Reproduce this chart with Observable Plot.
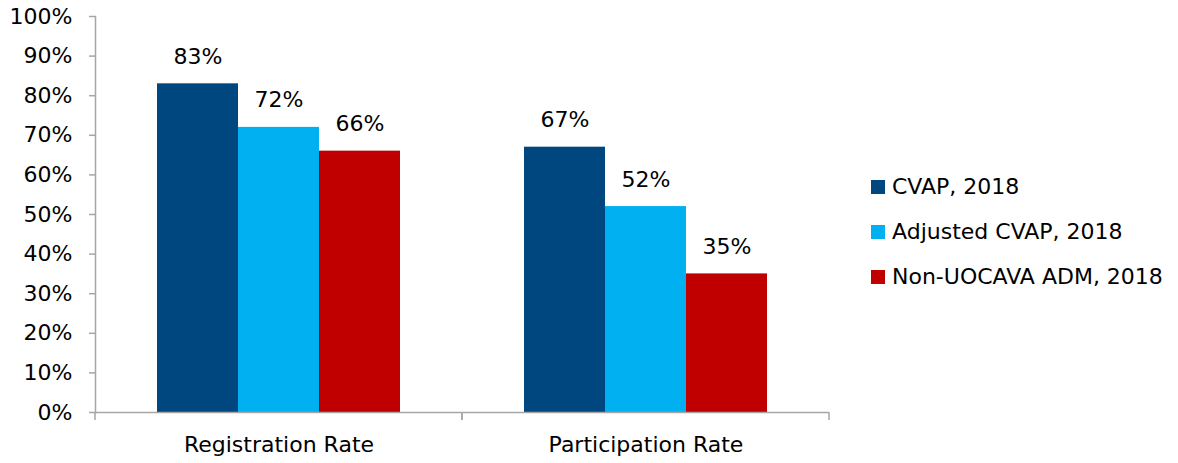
<!DOCTYPE html>
<html>
<head>
<meta charset="utf-8">
<script src="https://cdn.jsdelivr.net/npm/d3@7"></script>
<script src="https://cdn.jsdelivr.net/npm/@observablehq/plot@0.6"></script>
<style>
  html, body { margin: 0; padding: 0; background: #fff; }
  #chart { position: relative; width: 1178px; height: 463px; font-family: "DejaVu Sans", sans-serif; }
  #legend { position: absolute; left: 871px; top: 164px; font-size: 22px; color: #000; }
  #legend .item { display: flex; align-items: center; height: 45px; white-space: nowrap; }
  #legend .swatch { width: 14px; height: 14px; margin-right: 7px; flex: none; }
</style>
</head>
<body>
<div id="chart"><div id="legend"></div></div>
<script>
// Rates by measure (percent)
const categories = ["Registration Rate", "Participation Rate"];
const series = ["CVAP, 2018", "Adjusted CVAP, 2018", "Non-UOCAVA ADM, 2018"];
const registrationRate = [83, 72, 66];
const participationRate = [67, 52, 35];
const seriesColors = ["#00467F", "#00B0F0", "#C00000"];
const yTicks = [0, 10, 20, 30, 40, 50, 60, 70, 80, 90, 100];

const axisGray = "#A6A6A6";

const rows = [];
[registrationRate, participationRate].forEach((values, i) => {
  values.forEach((v, j) => rows.push({category: categories[i], series: series[j], value: v}));
});

// Short tick marks below the baseline at each category boundary
function categoryBoundaryTicks(index, scales) {
  const [x0, x1] = scales.x.range();
  const y0 = scales.y(0);
  const g = d3.create("svg:g").attr("stroke", axisGray).attr("stroke-width", 1.5);
  for (const x of [x0, x1]) {
    g.append("line").attr("x1", x).attr("x2", x).attr("y1", y0).attr("y2", y0 + 8);
  }
  return g.node();
}

const chart = Plot.plot({
  width: 1178,
  height: 463,
  marginLeft: 94,
  marginRight: 349,
  marginTop: 16,
  marginBottom: 51,
  style: {fontFamily: "DejaVu Sans, sans-serif", fontSize: "22px", color: "#000", background: "#fff"},
  fx: {domain: categories, padding: 0, label: null, axis: null},
  x: {domain: series, paddingInner: 0, paddingOuter: 0.75, axis: null},
  y: {domain: [0, 100], axis: null},
  color: {domain: series, range: seriesColors},
  marks: [
    Plot.barY(rows, {fx: "category", x: "series", y: "value", fill: "series"}),
    Plot.text(rows, {
      fx: "category", x: "series", y: "value",
      text: d => `${d.value}%`,
      lineAnchor: "bottom", dy: -20, fill: "#000"
    }),
    Plot.ruleY([0], {stroke: axisGray, strokeWidth: 1.5}),
    Plot.frame({anchor: "left", facetAnchor: "left", stroke: axisGray, strokeWidth: 1.5}),
    categoryBoundaryTicks,
    Plot.axisY(yTicks, {
      tickSize: 6, tickPadding: 17, stroke: axisGray, strokeWidth: 1.5, fill: "#000",
      tickFormat: d => `${d}%`, label: null
    }),
    Plot.axisFx({anchor: "bottom", tickSize: 0, tickPadding: 24, fill: "#000", label: null})
  ]
});

const container = document.getElementById("chart");
container.insertBefore(chart, container.firstChild);

const legend = document.getElementById("legend");
series.forEach((name, i) => {
  const item = document.createElement("div");
  item.className = "item";
  const sw = document.createElement("span");
  sw.className = "swatch";
  sw.style.background = seriesColors[i];
  const label = document.createElement("span");
  label.textContent = name;
  item.append(sw, label);
  legend.append(item);
});
</script>
</body>
</html>
